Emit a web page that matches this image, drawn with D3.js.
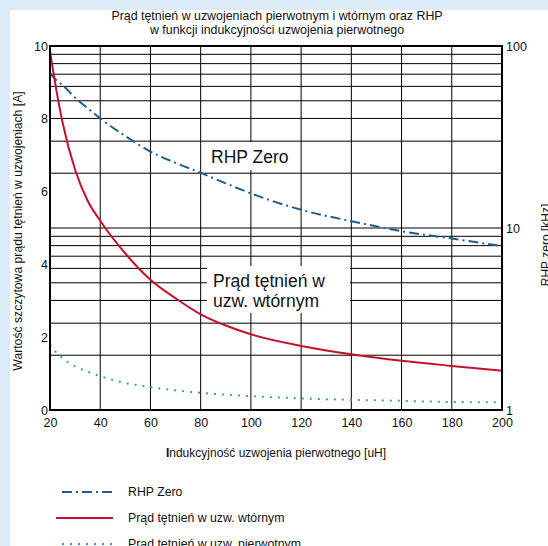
<!DOCTYPE html>
<html>
<meta charset="utf-8">
<head>
<title>prad tetnien</title>
<script src="https://d3js.org/d3.v7.min.js"></script>
<style>
  body { margin:0; background:#dcebf8; }
  text { font-family: "Liberation Sans", Arial, sans-serif; fill:#111; }
</style>
</head>
<body>
<div id="plot"></div>
<script>

// values
var inductance = [20, 22, 25, 30, 35, 40, 50, 60, 70, 80, 90, 100, 120, 140, 160, 180, 200];
var secondaryA = [9.85, 9.0, 7.9, 6.6, 5.75, 5.2, 4.3, 3.58, 3.07, 2.63, 2.32, 2.08, 1.76, 1.53, 1.35, 1.21, 1.08];
var primaryA   = [1.8, 1.62, 1.42, 1.2, 1.05, 0.93, 0.74, 0.63, 0.54, 0.47, 0.42, 0.38, 0.32, 0.28, 0.25, 0.22, 0.21];
var rhpKHz     = [71, 66, 61, 52, 45.5, 40, 32, 26.3, 22.8, 20.1, 17.6, 15.5, 12.6, 10.9, 9.6, 8.75, 7.95];

var xTicks = [20, 40, 60, 80, 100, 120, 140, 160, 180, 200];
var leftTicks = [0, 2, 4, 6, 8, 10];
var rightTicks = [1, 10, 100];

var W = 548, H = 546;
var margin = {top:46, right:46, bottom:136, left:50};
var width = W - margin.left - margin.right;
var height = H - margin.top - margin.bottom;

var svg = d3.select("#plot").append("svg")
	.attr("width", W)
	.attr("height", H);

svg.append("rect")
	.attr("x", 10).attr("y", 10)
	.attr("width", W - 10).attr("height", H - 10)
	.attr("fill", "white");

var xScale = d3.scaleLinear().domain([20, 200]).range([0, width]);
var yLeft = d3.scaleLinear().domain([0, 10]).range([height, 0]);
var yRight = d3.scaleLog().domain([1, 100]).range([height, 0]);

var g = svg.append("g")
	.attr("transform", "translate(" + margin.left + "," + margin.top + ")");

// grid
g.selectAll(".vgrid")
	.data(xTicks.slice(1, -1))
	.enter().append("line")
	.attr("x1", function(d){ return xScale(d); })
	.attr("x2", function(d){ return xScale(d); })
	.attr("y1", 0).attr("y2", height)
	.attr("stroke", "#000").attr("stroke-width", 1);

g.selectAll(".hgrid")
	.data(yRight.ticks().filter(function(d){ return d > 1 && d < 100; }))
	.enter().append("line")
	.attr("x1", 0).attr("x2", width)
	.attr("y1", function(d){ return yRight(d); })
	.attr("y2", function(d){ return yRight(d); })
	.attr("stroke", "#000").attr("stroke-width", 1);

// annotation boxes
var notes = [
	{lines:["RHP Zero"], x:155, y:96, w:90, h:28},
	{lines:["Prąd tętnień w", "uzw. wtórnym"], x:157, y:220, w:143, h:47}
];
notes.forEach(function(n){
	g.append("rect").attr("x", n.x).attr("y", n.y).attr("width", n.w).attr("height", n.h).attr("fill", "white");
	n.lines.forEach(function(t, i){
		g.append("text").attr("x", n.x + 6).attr("y", n.y + 21 + i * 20)
			.attr("font-size", 17.5).text(t);
	});
});

// curves
var line = function(ys, scale){
	return d3.line()
		.x(function(d, i){ return xScale(inductance[i]); })
		.y(function(d){ return scale(d); })
		.curve(d3.curveMonotoneX)(ys);
};

g.append("path").attr("d", line(rhpKHz, yRight))
	.attr("fill", "none").attr("stroke", "#1f5f8b").attr("stroke-width", 2)
	.attr("stroke-dasharray", "10,4,2,4");

g.append("path").attr("d", line(secondaryA, yLeft))
	.attr("fill", "none").attr("stroke", "#c8102e").attr("stroke-width", 2);

g.append("path").attr("d", line(primaryA, yLeft))
	.attr("fill", "none").attr("stroke", "#3a9ad9").attr("stroke-width", 2)
	.attr("stroke-dasharray", "2,6");

// frame
g.append("rect").attr("width", width).attr("height", height)
	.attr("fill", "none").attr("stroke", "#000").attr("stroke-width", 2);

// axes
var xAxis = d3.axisBottom(xScale).tickValues(xTicks).tickSize(0).tickPadding(8);
var leftAxis = d3.axisLeft(yLeft).tickValues(leftTicks).tickSize(0).tickPadding(2);
var rightAxis = d3.axisRight(yRight).tickValues(rightTicks).tickSize(0).tickPadding(4)
	.tickFormat(d3.format("d"));

[g.append("g").attr("transform", "translate(0," + height + ")").call(xAxis),
 g.append("g").call(leftAxis),
 g.append("g").attr("transform", "translate(" + width + ",0)").call(rightAxis)
].forEach(function(a){
	a.select(".domain").remove();
	a.selectAll("text").attr("font-size", 12.5).attr("font-family", "Liberation Sans, Arial, sans-serif").attr("fill", "#111");
});

// titles
svg.append("text").attr("x", 277).attr("y", 20).attr("text-anchor", "middle").attr("font-size", 12.4)
	.text("Prąd tętnień w uzwojeniach pierwotnym i wtórnym oraz RHP");
svg.append("text").attr("x", 277).attr("y", 34).attr("text-anchor", "middle").attr("font-size", 12.4)
	.text("w funkcji indukcyjności uzwojenia pierwotnego");

var xl = svg.append("text").attr("x", 276).attr("y", 457).attr("text-anchor", "middle").attr("font-size", 12);
xl.append("tspan").attr("font-weight", "bold").text("I");
xl.append("tspan").text("ndukcyjność uzwojenia pierwotnego [uH]");

svg.append("text").attr("transform", "translate(22,231) rotate(-90)")
	.attr("text-anchor", "middle").attr("font-size", 12.2)
	.text("Wartość szczytowa prądu tętnień w uzwojeniach [A]");

svg.append("text").attr("transform", "translate(550,245) rotate(-90)")
	.attr("text-anchor", "middle").attr("font-size", 12)
	.text("RHP zero [kHz]");

// legend
var legendNames = ["RHP Zero", "Prąd tętnień w uzw. wtórnym", "Prąd tętnień w uzw. pierwotnym"];
var legendColors = ["#1f5f8b", "#c8102e", "#3a9ad9"];
var legendDash = ["10,4,2,4", null, "2,6"];

var lg = svg.selectAll(".lg").data(legendNames).enter().append("g")
	.attr("transform", function(d, i){ return "translate(0," + (492 + i * 26) + ")"; });
lg.append("line").attr("x1", function(d, i){ return i == 1 ? 56 : 62; }).attr("x2", 113)
	.attr("stroke", function(d, i){ return legendColors[i]; })
	.attr("stroke-width", 2)
	.attr("stroke-dasharray", function(d, i){ return legendDash[i]; });
lg.append("text").attr("x", 128).attr("y", 4).attr("font-size", 12.3).text(function(d){ return d; });

</script>
</body>
</html>
